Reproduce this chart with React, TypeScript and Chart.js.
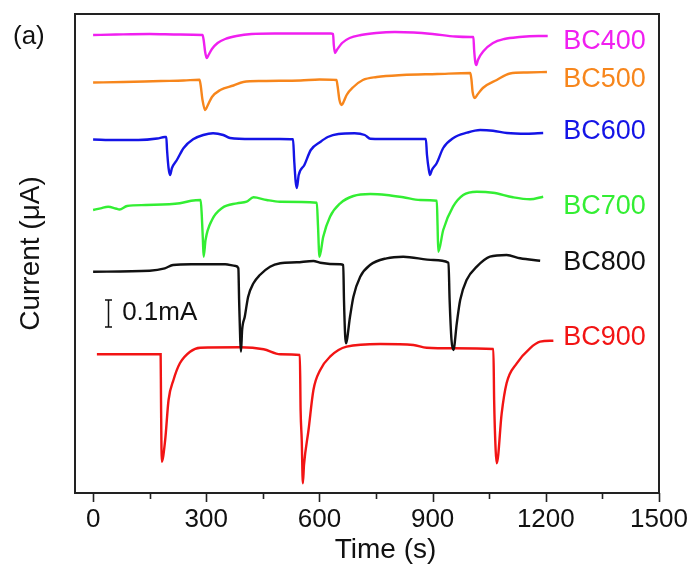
import React, { useEffect, useRef } from "react";
import { Chart, registerables } from "chart.js";

Chart.register(...registerables);

const FONT = "'Liberation Sans', Arial, Helvetica, sans-serif";

// Series names, colours, and label anchor (in data units)
const seriesNames = ["BC400", "BC500", "BC600", "BC700", "BC800", "BC900"];
const seriesColors = ["#f01ff0", "#f7861c", "#1414e6", "#33ee33", "#111111", "#f21414"];
const labelTime = 1246;
const labelCurrent = [451, 413, 361, 286, 230.5, 155];

// Time (s) and offset current (a.u., 27 units = 0.1 mA) for each trace
const bc400Time = [0, 60, 150, 230, 290, 293, 297, 301, 306, 315, 330, 350, 380, 420, 480, 560, 630, 636, 638, 641, 646, 660, 680, 710, 750, 800, 850, 900, 960, 1000, 1008, 1010, 1013, 1016, 1020, 1035, 1060, 1090, 1130, 1180, 1205];
const bc400Current = [458, 458.5, 459, 458.5, 458, 453, 441, 435, 438, 444, 450, 454, 457, 459, 459.5, 459.5, 459.5, 459, 448, 440, 443, 450, 455, 458, 460, 461, 460.5, 459, 456.5, 456, 456, 443, 431, 428, 433, 442, 450, 454, 456, 457, 457];

const bc500Time = [0, 80, 180, 240, 282, 285, 290, 297, 303, 315, 337, 372, 398, 450, 550, 600, 645, 648, 653, 659, 665, 672, 690, 715, 752, 820, 912, 1000, 1003, 1006, 1012, 1018, 1033, 1070, 1105, 1150, 1203];
const bc500Current = [410.5, 411, 412, 412.5, 413.3, 408, 393, 383, 387, 396, 403, 407.5, 411, 412, 412.5, 413.5, 413, 407, 393, 388, 392, 398, 406, 413, 416, 418, 419, 420, 413, 401, 395, 398, 405, 413, 419.5, 420.5, 421];

const bc600Time = [0, 60, 120, 170, 190, 194, 196, 200, 204, 209, 222, 240, 265, 292, 318, 345, 363, 420, 495, 530, 533, 537, 540, 545, 560, 577, 602, 622, 650, 693, 720, 735, 800, 850, 882, 885, 890, 893, 898, 911, 928, 955, 991, 1026, 1060, 1097, 1150, 1193];
const bc600Current = [353.5, 353, 353, 354.5, 356, 356, 343, 325, 318, 325, 333, 345, 353.7, 358, 359.7, 358, 355, 354, 354, 353.7, 333, 311, 305, 318, 328, 343, 351, 356, 359, 359.7, 358, 354.3, 354, 354, 354, 338, 323, 318, 323, 330, 345, 355, 360.3, 363, 362.3, 360, 359.3, 360];

const bc700Time = [0, 20, 40, 60, 70, 90, 140, 230, 260, 285, 288, 291, 293, 298, 315, 342, 381, 407, 425, 460, 495, 593, 596, 600, 610, 628, 655, 690, 735, 778, 822, 867, 911, 913, 915, 928, 954, 981, 1017, 1060, 1113, 1158, 1193];
const bc700Current = [283, 284.7, 286.3, 284.5, 283.5, 287, 288, 289.7, 292.3, 293, 278, 253, 236.3, 253, 273, 285, 289.7, 291.3, 295.7, 293, 291.3, 290.3, 268, 236.3, 256.3, 276.3, 289.7, 297, 299, 298, 295.7, 293, 292.3, 268, 241.3, 263, 286.3, 298, 301.3, 300.3, 295.7, 293.7, 296.3];

const bc800Time = [0, 150, 190, 212, 260, 350, 378, 385, 387, 390, 392, 395, 402, 411, 425, 442, 469, 496, 540, 584, 602, 655, 663, 665, 668, 670, 681, 690, 708, 734, 778, 822, 902, 942, 945, 950, 955, 964, 973, 990, 1017, 1052, 1096, 1132, 1185];
const bc800Current = [221.3, 222.3, 224.7, 228, 228.7, 228.7, 227, 224.7, 193, 153, 141.3, 163, 176.3, 196.3, 209.7, 218, 226.3, 229.7, 230.7, 232, 230.3, 228.7, 228, 193, 158, 149.7, 176.3, 196.3, 216.3, 228, 234.7, 236.3, 233, 230.3, 193, 153, 143, 169.7, 193, 213, 226.3, 236.3, 238, 234.7, 232.3];

const bc900Time = [10, 100, 179, 180, 182, 191, 200, 213, 230, 257, 284, 390, 452, 496, 548, 550, 553, 556, 559, 571, 584, 602, 628, 672, 761, 849, 884, 955, 1061, 1063, 1067, 1070, 1083, 1096, 1123, 1158, 1185, 1220];
const bc900Current = [138.7, 138.7, 138.7, 93, 31.3, 53, 93, 113, 129.7, 141.3, 145.3, 145.7, 143.7, 138.7, 138, 83, 53, 9.7, 28, 63, 103, 123, 136.3, 146.3, 149, 148, 145.3, 144.7, 144, 93, 43, 29.7, 79.7, 109.7, 129.7, 144.7, 151.3, 152.3];

const seriesTime = [bc400Time, bc500Time, bc600Time, bc700Time, bc800Time, bc900Time];
const seriesCurrent = [bc400Current, bc500Current, bc600Current, bc700Current, bc800Current, bc900Current];

// Axis ticks
const xMajorTicks = [0, 300, 600, 900, 1200, 1500];
const xMinorTicks = [150, 450, 750, 1050, 1350];
const xMin = -48;
const xMax = 1500;
const yMin = 0;
const yMax = 479;
const xTitle = "Time (s)";
const xTitleTime = 775;

// Scale bar (0.1 mA = 27 units)
const scaleBarTime = 40;
const scaleBarLow = 166;
const scaleBarHigh = 193;
const scaleBarLabel = "0.1mA";
const scaleBarLabelTime = 77;
const scaleBarLabelCurrent = 180;

const overlayPlugin = {
  id: "overlay",
  afterDraw(chart: any) {
    const { ctx, chartArea, scales } = chart;
    const x = scales.x;
    const y = scales.y;
    ctx.save();
    // frame
    ctx.strokeStyle = "#222";
    ctx.lineWidth = 2;
    ctx.strokeRect(chartArea.left, chartArea.top, chartArea.right - chartArea.left, chartArea.bottom - chartArea.top);
    // ticks
    ctx.lineWidth = 1.6;
    ctx.beginPath();
    xMajorTicks.forEach((v) => {
      const px = Math.round(x.getPixelForValue(v)) + 0.5;
      ctx.moveTo(px, chartArea.bottom);
      ctx.lineTo(px, chartArea.bottom + 9);
    });
    xMinorTicks.forEach((v) => {
      const px = Math.round(x.getPixelForValue(v)) + 0.5;
      ctx.moveTo(px, chartArea.bottom);
      ctx.lineTo(px, chartArea.bottom + 6);
    });
    ctx.stroke();
    // series labels
    ctx.font = `27px ${FONT}`;
    ctx.textBaseline = "middle";
    ctx.textAlign = "left";
    seriesNames.forEach((n, i) => {
      ctx.fillStyle = seriesColors[i];
      ctx.fillText(n, x.getPixelForValue(labelTime), y.getPixelForValue(labelCurrent[i]));
    });
    // scale bar
    const bx = Math.round(x.getPixelForValue(scaleBarTime)) + 0.5;
    const y1 = y.getPixelForValue(scaleBarLow);
    const y2 = y.getPixelForValue(scaleBarHigh);
    ctx.strokeStyle = "#111";
    ctx.lineWidth = 1.5;
    ctx.beginPath();
    ctx.moveTo(bx, y1);
    ctx.lineTo(bx, y2);
    ctx.moveTo(bx - 3.5, y1);
    ctx.lineTo(bx + 3.5, y1);
    ctx.moveTo(bx - 3.5, y2);
    ctx.lineTo(bx + 3.5, y2);
    ctx.stroke();
    ctx.fillStyle = "#111";
    ctx.font = `26px ${FONT}`;
    ctx.fillText(scaleBarLabel, x.getPixelForValue(scaleBarLabelTime), y.getPixelForValue(scaleBarLabelCurrent));
    // panel letter
    ctx.font = `26px ${FONT}`;
    ctx.fillText("(a)", 13, 37);
    // x title
    ctx.textAlign = "center";
    ctx.font = `28px ${FONT}`;
    ctx.fillText(xTitle, x.getPixelForValue(xTitleTime), 550);
    ctx.restore();
  },
};

export default function App() {
  const ref = useRef<HTMLCanvasElement | null>(null);
  useEffect(() => {
    document.body.style.margin = "0";
    const canvas = ref.current;
    if (!canvas) return;
    const datasets = seriesNames.map((name, i) => ({
      label: name,
      data: seriesTime[i].map((t, j) => ({ x: t, y: seriesCurrent[i][j] })),
      borderColor: seriesColors[i],
      backgroundColor: seriesColors[i],
      borderWidth: 2.4,
      pointRadius: 0,
      cubicInterpolationMode: "monotone" as const,
      fill: false,
    }));
    const chart = new Chart(canvas, {
      type: "line",
      data: { datasets },
      options: {
        animation: false,
        responsive: true,
        maintainAspectRatio: false,
        layout: { padding: { top: 14, right: 35, left: 0, bottom: 0 } },
        plugins: { legend: { display: false }, tooltip: { enabled: false } },
        scales: {
          x: {
            type: "linear",
            min: xMin,
            max: xMax,
            afterBuildTicks: (s: any) => {
              s.ticks = xMajorTicks.map((v) => ({ value: v }));
            },
            afterFit: (s: any) => {
              s.height = 75;
            },
            ticks: {
              font: { family: FONT, size: 26 },
              color: "#111",
              padding: 1,
              maxRotation: 0,
              autoSkip: false,
              callback: (v: any) => String(v),
            },
            grid: {
              display: true,
              drawOnChartArea: false,
              drawTicks: true,
              tickLength: 10,
              tickColor: "rgba(0,0,0,0)",
            },
            border: { display: false },
            title: { display: false },
          },
          y: {
            type: "linear",
            min: yMin,
            max: yMax,
            afterFit: (s: any) => {
              s.width = 75;
            },
            ticks: { display: false },
            grid: { display: false },
            border: { display: false },
            title: {
              display: true,
              text: "Current (μA)",
              color: "#111",
              font: { family: FONT, size: 28 },
              padding: { top: 14, bottom: 0 },
            },
          },
        },
      },
      plugins: [overlayPlugin],
    });
    return () => chart.destroy();
  }, []);
  return (
    <div style={{ width: 694, height: 568, position: "relative" }}>
      <canvas ref={ref} />
    </div>
  );
}
